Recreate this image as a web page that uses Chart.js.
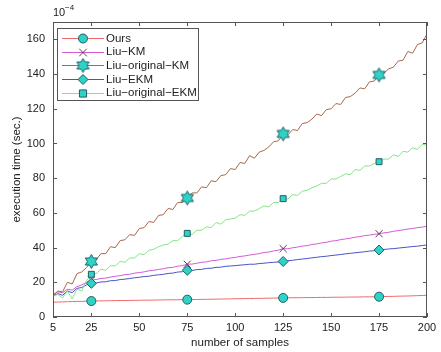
<!DOCTYPE html>
<html><head><meta charset="utf-8">
<script src="https://cdn.jsdelivr.net/npm/chart.js@4.4.0/dist/chart.umd.min.js"></script>
<style>html,body{margin:0;padding:0;background:#fff;}</style>
</head><body>
<canvas id="c" width="441" height="352"></canvas>
<script>
// ---------- data ----------
const samples = [5,7.5,10,12.5,15,17.5,20,22.5,25,27.5,30,32.5,35,37.5,40,42.5,45,47.5,50,52.5,55,57.5,60,62.5,65,67.5,70,72.5,75,77.5,80,82.5,85,87.5,90,92.5,95,97.5,100,102.5,105,107.5,110,112.5,115,117.5,120,122.5,125,127.5,130,132.5,135,137.5,140,142.5,145,147.5,150,152.5,155,157.5,160,162.5,165,167.5,170,172.5,175,177.5,180,182.5,185,187.5,190,192.5,195,197.5,200];
const markerSamples = [25,75,125,175];
const xTicks = [5,25,50,75,100,125,150,175,200];
const yTicks = [0,20,40,60,80,100,120,140,160];
const seriesNames = ['Ours','Liu\u2212KM','Liu\u2212original\u2212KM','Liu\u2212EKM','Liu\u2212original\u2212EKM'];

const ours = [8.5,8.6,8.7,8.8,8.9,9.0,9.0,9.1,9.2,9.25,9.3,9.35,9.4,9.45,9.5,9.5,9.55,9.6,9.65,9.7,9.7,9.75,9.8,9.85,9.9,9.9,9.95,10.0,10.0,
 10.05,10.1,10.15,10.2,10.25,10.3,10.35,10.4,10.45,10.5,10.55,10.6,10.65,10.7,10.75,10.8,10.85,10.9,10.95,11.0,
 11.05,11.1,11.1,11.15,11.2,11.2,11.25,11.3,11.3,11.35,11.4,11.4,11.45,11.5,11.5,11.55,11.6,11.6,11.65,11.7,
 11.8,11.85,11.9,12.0,12.05,12.1,12.2,12.3,12.4,12.5];
const liuKM = [13,14.5,14,16,15.5,17.5,18.5,20,21.3,21.6,22.2,22.4,23,23.5,23.8,24.4,24.6,25.3,25.6,26,26.6,26.9,27.4,27.8,28.4,28.6,29.3,29.6,30.4,
 30.5,31,31.5,31.8,32.4,32.6,33.2,33.5,34,34.3,34.9,35.2,35.7,36.1,36.5,37.2,37.4,38.1,38.5,39.4,
 39.3,39.9,40.3,40.9,41.1,41.8,42.1,42.7,43,43.7,44,44.6,45,45.4,46,46.3,46.9,47.2,47.6,48,
 48.5,48.8,49.4,49.8,50.2,50.7,51,51.5,51.8,52.3];
const liuOrigKM = [12,15,14.5,20,19,25,26,28.5,32,33,36.5,36.5,40.5,40,44,44.5,47.5,47,51,51.5,55,54.5,58.5,59,62.5,62,66,66,68.6,
 71.5,71.5,75,74.5,78.5,78,81.5,82,85.5,85,89,88.5,93,91.5,95,96,98,101,101.5,105.5,
 105,108,107.5,111.5,112,114,117,116,119.5,120,123,122.5,126.5,127,129,132,131.5,135.5,136,139.5,
 140.5,143,144,147.5,148,153,152,157,158,163];
const liuEKM = [12,13.5,12.5,15,14,16.5,17,18.5,19.4,19.6,20.2,20.3,20.9,21,21.6,21.8,22.2,22.6,22.9,23.3,23.5,24,24.3,24.6,25.1,25.3,25.9,26.1,26.9,
 26.8,27.3,27.4,28,28.1,28.6,28.7,29.2,29.4,29.6,29.9,30.1,30.4,30.4,30.8,31,31.3,31.5,31.7,32,
 32.4,32.7,33.1,33.4,33.7,34.1,34.4,34.8,35,35.4,35.7,36,36.4,36.7,37,37.3,37.6,38,38.2,38.6,
 38.9,39.2,39.4,39.7,40,40.3,40.6,40.8,41.2,41.5];
const liuOrigEKM = [12,13,11,15,10.5,16,15,21,24.6,25,27.5,27,29.5,29.5,32,31.5,34,34,36.5,36,38.5,39,40.5,41.5,42,44,44,46.5,48.2,
 47.5,50,50,52,51.5,54.5,53.5,56,56.5,57,59,58.5,61,61,62.5,64,63.5,66,66,68.2,
 68,70.5,70,72.5,73,74.5,75.5,77,77,79.5,79.5,81,82.5,82,85,84.5,87,87,88.5,89.5,
 91,91,93.5,92.5,95.5,95,97.5,96.5,99.5,99];

// ---------- styles ----------
const FONT = '"Liberation Sans", Arial, Helvetica, sans-serif';
const MFILL = '#2fd3c6';
const MEDGE = '#1d5f66';
const lineColors = ['#ee6a6a','#d45ad4','#a8684a','#4a52c4','#86e486'];
const markerTypes = ['circle','x','hexagram','diamond','square'];
const markerSizes = [4.5,5,7,5,4.2];

function hexagramCanvas(R) {
  const s = Math.ceil(R*2+3);
  const cv = document.createElement('canvas');
  cv.width = s; cv.height = s;
  const g = cv.getContext('2d');
  hexPath(g, s/2, s/2, R);
  g.fillStyle = MFILL; g.fill();
  g.strokeStyle = MEDGE; g.lineWidth = 1; g.stroke();
  return cv;
}
function hexPath(g, cx, cy, R) {
  const r = R/Math.sqrt(3);
  g.beginPath();
  for (let i = 0; i < 12; i++) {
    const a = -Math.PI/2 + i*Math.PI/6;
    const rr = (i % 2 === 0) ? R : r;
    const px = cx + rr*Math.cos(a), py = cy + rr*Math.sin(a);
    if (i === 0) g.moveTo(px, py); else g.lineTo(px, py);
  }
  g.closePath();
}
const hexImg = hexagramCanvas(7);

function chartPointStyle(t) {
  if (t === 'circle') return 'circle';
  if (t === 'x') return 'crossRot';
  if (t === 'hexagram') return hexImg;
  if (t === 'diamond') return 'rectRot';
  return 'rect';
}

function drawMarker(g, t, x, y, r) {
  g.save();
  g.lineWidth = 1;
  g.strokeStyle = MEDGE; g.fillStyle = MFILL;
  if (t === 'circle') { g.beginPath(); g.arc(x, y, r, 0, Math.PI*2); g.fill(); g.stroke(); }
  else if (t === 'x') { g.strokeStyle = '#5a3a5a'; g.beginPath(); const d = r*0.75; g.moveTo(x-d,y-d); g.lineTo(x+d,y+d); g.moveTo(x+d,y-d); g.lineTo(x-d,y+d); g.stroke(); }
  else if (t === 'hexagram') { g.drawImage(hexImg, x - hexImg.width/2, y - hexImg.height/2); }
  else if (t === 'diamond') { g.beginPath(); g.moveTo(x, y-r); g.lineTo(x+r, y); g.lineTo(x, y+r); g.lineTo(x-r, y); g.closePath(); g.fill(); g.stroke(); }
  else { const d = r*0.85; g.beginPath(); g.rect(x-d, y-d, 2*d, 2*d); g.fill(); g.stroke(); }
  g.restore();
}

const allSeries = [ours, liuKM, liuOrigKM, liuEKM, liuOrigEKM];
const datasets = allSeries.map((vals, i) => ({
  label: seriesNames[i],
  data: samples.map((x, j) => ({x: x, y: vals[j]})),
  borderColor: lineColors[i],
  borderWidth: 1,
  backgroundColor: MFILL,
  pointStyle: chartPointStyle(markerTypes[i]),
  pointRadius: ctx => markerSamples.includes(samples[ctx.dataIndex]) ? markerSizes[i] : 0,
  pointHoverRadius: 0,
  pointBackgroundColor: MFILL,
  pointBorderColor: markerTypes[i] === 'x' ? '#5a3a5a' : MEDGE,
  pointBorderWidth: 1,
  tension: 0,
  order: 5 - i
}));

// ---------- plugins ----------
const frame = {
  id: 'frame',
  afterDatasetsDraw(chart) {
    const g = chart.ctx, a = chart.chartArea;
    const xs = chart.scales.x, ys = chart.scales.y;
    g.save();
    g.strokeStyle = '#555'; g.lineWidth = 1;
    g.strokeRect(Math.round(a.left)+0.5, Math.round(a.top)+0.5, Math.round(a.right-a.left)-1, Math.round(a.bottom-a.top)-1);
    const tl = 4;
    g.beginPath();
    xTicks.forEach(v => {
      const px = Math.round(xs.getPixelForValue(v)) + 0.5;
      g.moveTo(px, a.bottom); g.lineTo(px, a.bottom - tl);
      g.moveTo(px, a.top); g.lineTo(px, a.top + tl);
    });
    yTicks.forEach(v => {
      const py = Math.round(ys.getPixelForValue(v)) + 0.5;
      g.moveTo(a.left, py); g.lineTo(a.left + tl, py);
      g.moveTo(a.right, py); g.lineTo(a.right - tl, py);
    });
    g.stroke();
    // exponent label
    g.fillStyle = '#222';
    g.textBaseline = 'alphabetic';
    g.font = '11px ' + FONT;
    g.fillText('10', a.left, 16);
    g.font = '8px ' + FONT;
    g.fillText('\u22124', a.left + 12, 10);
    // legend
    const bx = 57, by = 28, bw = 141, bh = 72;
    g.fillStyle = '#fff';
    g.fillRect(bx, by, bw, bh);
    g.strokeStyle = '#555';
    g.strokeRect(bx + 0.5, by + 0.5, bw, bh);
    g.font = '11.5px ' + FONT;
    g.textBaseline = 'middle';
    seriesNames.forEach((name, i) => {
      const y = 38 + i * 13.7;
      g.strokeStyle = lineColors[i]; g.lineWidth = 1;
      g.beginPath(); g.moveTo(62, Math.round(y)+0.5); g.lineTo(104, Math.round(y)+0.5); g.stroke();
      drawMarker(g, markerTypes[i], 83, Math.round(y)+0.5, markerSizes[i]);
      g.fillStyle = '#222';
      g.fillText(name, 106, y + 0.5);
    });
    g.restore();
  }
};

new Chart(document.getElementById('c'), {
  type: 'line',
  data: { datasets: datasets },
  options: {
    responsive: false,
    animation: false,
    devicePixelRatio: 1,
    events: [],
    layout: { padding: { left: 0, right: 14, top: 22, bottom: 0 } },
    plugins: { legend: { display: false }, tooltip: { enabled: false } },
    scales: {
      x: {
        type: 'linear', min: 5, max: 200,
        afterBuildTicks: s => { s.ticks = xTicks.map(v => ({value: v})); },
        afterFit: s => { s.height = 35; },
        grid: { display: false, drawTicks: false },
        border: { display: false },
        ticks: { color: '#222', font: { family: FONT, size: 11 }, padding: 4, maxRotation: 0, autoSkip: false },
        title: { display: true, text: 'number of samples', color: '#222', font: { family: FONT, size: 11.5 }, padding: { top: 0, bottom: 2 } }
      },
      y: {
        type: 'linear', min: 0, max: 170,
        afterBuildTicks: s => { s.ticks = yTicks.map(v => ({value: v})); },
        afterFit: s => { s.width = 53; },
        grid: { display: false, drawTicks: false },
        border: { display: false },
        ticks: { color: '#222', font: { family: FONT, size: 11 }, padding: 8, autoSkip: false },
        title: { display: true, text: 'execution time (sec.)', color: '#222', font: { family: FONT, size: 11.5 }, padding: { top: 10, bottom: 0 } }
      }
    }
  },
  plugins: [frame]
});
</script>
</body></html>
